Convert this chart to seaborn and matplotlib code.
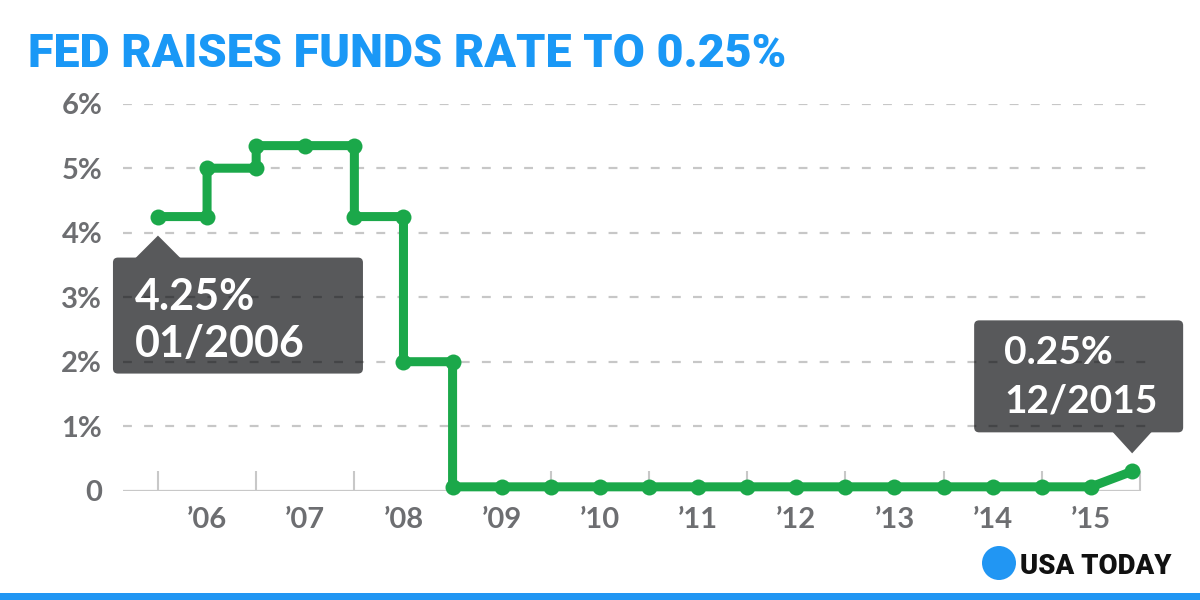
import matplotlib
matplotlib.use("Agg")
import matplotlib.pyplot as plt
import matplotlib.transforms as mtransforms
from matplotlib.patches import FancyBboxPatch, Polygon, Circle, Rectangle
import seaborn as sns
import pandas as pd

# ---- data ----
dates = [2006.0, 2006.5, 2006.5, 2007.0, 2007.0, 2007.5, 2008.0, 2008.0,
         2008.5, 2008.5, 2009.0, 2009.0, 2009.5, 2010.0, 2010.5, 2011.0,
         2011.5, 2012.0, 2012.5, 2013.0, 2013.5, 2014.0, 2014.5, 2015.0,
         2015.5, 2015.92]
rates = [4.25, 4.25, 5.0, 5.0, 5.35, 5.35, 5.35, 4.25,
         4.25, 2.0, 2.0, 0.06, 0.06, 0.06, 0.06, 0.06,
         0.06, 0.06, 0.06, 0.06, 0.06, 0.06, 0.06, 0.06,
         0.06, 0.3]
year_labels = ["’06", "’07", "’08", "’09", "’10", "’11", "’12", "’13", "’14", "’15"]
label_pos = [2006.5, 2007.5, 2008.5, 2009.5, 2010.5, 2011.5, 2012.5, 2013.5, 2014.5, 2015.5]
year_starts = [2006, 2007, 2008, 2009, 2010, 2011, 2012, 2013, 2014, 2015, 2016]
y_ticks = [0, 1, 2, 3, 4, 5, 6]
y_labels = ["0", "1%", "2%", "3%", "4%", "5%", "6%"]
title = "FED RAISES FUNDS RATE TO 0.25%"
callouts = [("4.25%", "01/2006"), ("0.25%", "12/2015")]

GREEN = "#1ba84a"
GRAY = "#6d6e71"
BOX = "#58595b"
BLUE = "#1a98f6"

sns.set_theme(style="white")
plt.rcParams["font.family"] = ["Lato", "DejaVu Sans"]

W, H = 1200, 600
fig = plt.figure(figsize=(12, 6), dpi=100)
ax = fig.add_axes([123 / W, (600 - 490.7) / H, 1027 / W, 387 / H])
ax.set_xlim(2005.644, 2006 + 992 / 98.2)
ax.set_ylim(0, 6)

df = pd.DataFrame({"date": dates, "rate": rates})
sns.lineplot(data=df, x="date", y="rate", estimator=None, sort=False,
             color=GREEN, linewidth=6.5, marker="o",
             ax=ax, zorder=5, clip_on=False)
for ln in ax.lines:
    ln.set_linewidth(6.5)
    ln.set_markersize(11.5)
    ln.set_markeredgewidth(0)
    ln.set_solid_joinstyle("round")
    ln.set_solid_capstyle("round")

for s in ax.spines.values():
    s.set_visible(False)

# gridlines (semi-transparent black so they darken the callout boxes)
for yv in y_ticks[1:]:
    ax.axhline(yv, color=(0, 0, 0, 0.22), linewidth=1.6, dashes=(4, 5.5),
               zorder=3)
ax.hlines(0, ax.get_xlim()[0], 2016.0, color="#c8c8c8", linewidth=1.6, zorder=3)

ax.set_yticks(y_ticks)
ax.set_yticklabels(y_labels)
ax.set_xticks(label_pos)
ax.set_xticklabels(year_labels)
ax.set_xticks(year_starts, minor=True)
ax.tick_params(axis="y", length=0, pad=15, labelsize=21, labelcolor=GRAY)
ax.tick_params(axis="x", which="major", direction="in", length=8, width=1.5,
               color="#c8c8c8", pad=12, labelsize=21, labelcolor=GRAY)
ax.tick_params(axis="x", which="minor", direction="in", length=14.5, width=1.5,
               color="#c8c8c8", bottom=True)
for lab in ax.get_xticklabels() + ax.get_yticklabels():
    lab.set_fontweight("bold")
ax.set_xlabel("")
ax.set_ylabel("")


def callout(anchor_idx, dy_apex, box, tri_half, lines, text_x, baselines, fs, up):
    """box: (x0, x1, y0, y1) in pixels relative to apex, y downward."""
    x, y = dates[anchor_idx], rates[anchor_idx]
    base = mtransforms.ScaledTranslation(x, y, ax.transData)
    tr = mtransforms.Affine2D().scale(1, -1).translate(0, -dy_apex) + \
        mtransforms.IdentityTransform() + base
    x0, x1, y0, y1 = box
    rect = FancyBboxPatch((x0, y0), x1 - x0, y1 - y0,
                          boxstyle="round,pad=0,rounding_size=5",
                          facecolor=BOX, edgecolor="none", transform=tr,
                          zorder=2, clip_on=False)
    ax.add_patch(rect)
    if up:
        tri = [(-tri_half, y0 + 1), (tri_half, y0 + 1), (0, 0)]
    else:
        tri = [(-tri_half, y1 - 1), (tri_half, y1 - 1), (0, 0)]
    ax.add_patch(Polygon(tri, closed=True, facecolor=BOX, edgecolor="none",
                         transform=tr, zorder=2, clip_on=False))
    for line, bl in zip(lines, baselines):
        ax.text(text_x, bl, line, transform=tr, color="white", fontsize=fs,
                fontweight="bold", ha="left", va="baseline", zorder=6)


# callout 1 : apex below first point
callout(0, 19, (-45, 205, 22, 138), 23, callouts[0], -23, (74, 121), 31, True)
# callout 2 : apex above last point
callout(len(dates) - 1, -18, (-158, 51, -133, -21), 20, callouts[1], -128,
        (-89, -41), 28, False)

# title
fig.text(28 / W, 1 - 66.7 / H, title, color=BLUE, fontsize=33.6,
         fontweight="black", family=["Roboto", "DejaVu Sans"], ha="left",
         va="baseline")

# logo
fig.patches.append(Circle((9.99, 0.37), 0.17, transform=fig.dpi_scale_trans,
                          facecolor="#2196f3", edgecolor="none"))
fig.text(1020 / W, 1 - 573.5 / H, "USA TODAY", color="#111111", fontsize=19.8,
         fontweight="black", family=["Roboto", "DejaVu Sans"], ha="left",
         va="baseline")
fig.patches.append(Rectangle((0, 0), 1, 7 / H, transform=fig.transFigure,
                             facecolor="#2196f3", edgecolor="none"))

fig.savefig("out.png", dpi=100)
